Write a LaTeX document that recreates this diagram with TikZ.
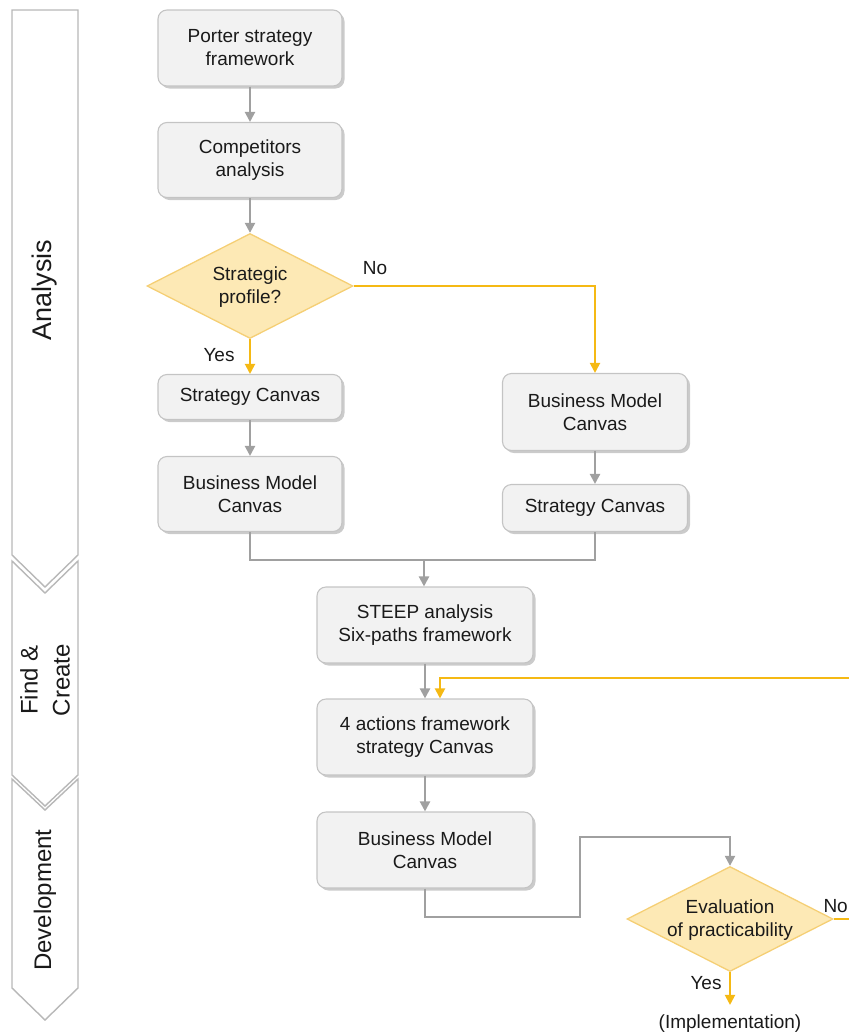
\documentclass[tikz,border=0pt]{standalone}
\usepackage{fontspec}
\setmainfont{Liberation Sans}
\usetikzlibrary{shapes.geometric,arrows.meta,shadows}
\definecolor{boxfill}{HTML}{F2F2F2}
\definecolor{boxline}{HTML}{C4C4C4}
\definecolor{linkgray}{HTML}{A0A0A0}
\definecolor{gold}{HTML}{F5B914}
\definecolor{decfill}{HTML}{FDE9B5}
\definecolor{decline}{HTML}{F5CF75}
\definecolor{phaseline}{HTML}{B8B8B8}
\definecolor{ink}{HTML}{1A1A1A}

\begin{document}
\begin{tikzpicture}[x=1pt,y=-1pt,
  font=\fontsize{19}{23}\selectfont, text=ink,
  stepbox/.style={rectangle, rounded corners=9pt, draw=boxline, line width=1.1pt,
    fill=boxfill, align=center, inner sep=0pt, minimum width=184pt,
    drop shadow={shadow xshift=2.5pt, shadow yshift=-2.5pt, fill=black!45, opacity=0.45}},
  decision/.style={diamond, draw=decline, fill=decfill, line width=1.3pt,
    inner sep=0pt, minimum width=206pt, minimum height=105pt},
  dectext/.style={align=center, inner sep=0pt},
  link/.style={draw=linkgray, line width=2.2pt, -{Triangle[length=10pt,width=10pt]}},
  plainlink/.style={draw=linkgray, line width=2.2pt},
  yes/.style={draw=gold, line width=2pt, -{Triangle[length=10pt,width=10pt]}},
  lbl/.style={inner sep=0pt},
  phase/.style={draw=phaseline, line width=1.4pt, fill=white},
  phasetext/.style={rotate=90, align=center, inner sep=0pt}]

\useasboundingbox (0,0) rectangle (849,1034);
\clip (0,0) rectangle (849,1034);

% phase chevrons
\draw[phase] (12,10) -- (78,10) -- (78,555) -- (45,587) -- (12,555) -- cycle;
\draw[phase] (12,561) -- (45,593) -- (78,561) -- (78,775) -- (45,806) -- (12,775) -- cycle;
\draw[phase] (12,779) -- (45,810) -- (78,779) -- (78,988) -- (45,1020) -- (12,988) -- cycle;
\node[phasetext, font=\fontsize{27}{30}\selectfont] (phA) at (45,290) {Analysis};
\node[phasetext, font=\fontsize{24}{32}\selectfont] (phF) at (45,680) {Find \&\\Create};
\node[phasetext, font=\fontsize{24}{30}\selectfont] (phD) at (45,900) {Development};

% analysis steps
\node[stepbox, minimum height=76pt] (porter) at (250,48) {Porter strategy\\framework};
\node[stepbox, minimum height=75pt] (comp) at (250,160) {Competitors\\analysis};
\node[decision] (prof) at (250,286) {};
\node[dectext] (proftext) at (250,287) {Strategic\\profile?};
\node[stepbox, minimum height=45pt] (sc1) at (250,397) {Strategy Canvas};
\node[stepbox, minimum height=75pt] (bmc1) at (250,494) {Business Model\\Canvas};
\node[stepbox, minimum width=185pt, minimum height=77pt] (bmc2) at (595,412) {Business Model\\Canvas};
\node[stepbox, minimum width=185pt, minimum height=47pt] (sc2) at (595,508) {Strategy Canvas};

% find & create / development steps
\node[stepbox, minimum width=216pt, minimum height=76pt] (steep) at (425,625) {STEEP analysis\\Six-paths framework};
\node[stepbox, minimum width=216pt, minimum height=76pt] (four) at (425,737) {4 actions framework\\strategy Canvas};
\node[stepbox, minimum width=216pt, minimum height=76pt] (bmc3) at (425,850) {Business Model\\Canvas};
\node[decision] (eval) at (730,919) {};
\node[dectext] (evaltext) at (730,920) {Evaluation\\of practicability};
\node[lbl] (impl) at (730,1024) {(Implementation)};

% branch labels
\node[lbl] (no1) at (375,268) {No};
\node[lbl] (yes1) at (219,355) {Yes};
\node[lbl] (yes2) at (706,983) {Yes};
\node[lbl, anchor=east] (no2) at (848,906) {No};

% junction points
\coordinate (merge) at (424,560);
\coordinate (j1) at (580,917);
\coordinate (j2) at (580,837);
\coordinate (loopr) at (870,678);
\coordinate (loopin) at (440,678);

% connectors
\draw[link] (porter) -- (comp);
\draw[link] (comp) -- (prof);
\draw[yes] (prof.south) -- (sc1.north);
\draw[yes] (prof.east) -| (bmc2.north);
\draw[link] (sc1) -- (bmc1);
\draw[link] (bmc2) -- (sc2);
\draw[plainlink] (bmc1.south) |- (merge) -| (sc2.south);
\draw[link] (merge) -- (merge |- steep.north);
\draw[link] (steep) -- (four);
\draw[link] (four) -- (bmc3);
\draw[link] (bmc3.south) |- (j1) -- (j2) -| (eval.north);
\draw[yes] (eval.east) -| (loopr) -- (loopin) -- (loopin |- four.north);
\draw[yes, shorten >=10pt] (eval.south) -- (impl.north);
\end{tikzpicture}
\end{document}
